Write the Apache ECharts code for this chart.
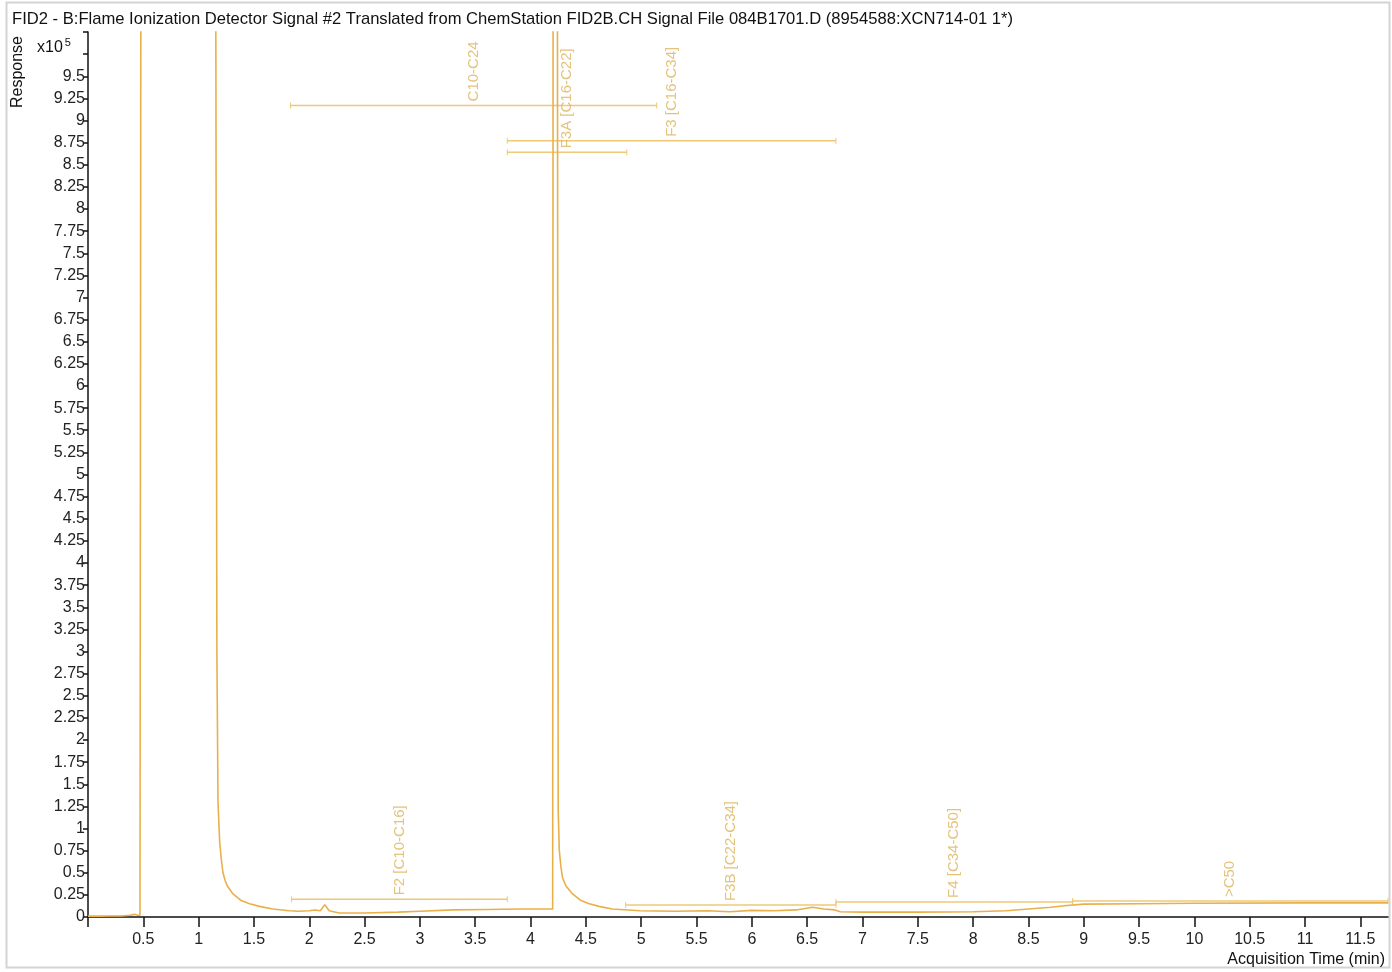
<!DOCTYPE html>
<html>
<head>
<meta charset="utf-8">
<script src="https://cdn.jsdelivr.net/npm/echarts@6.0.0/dist/echarts.min.js"></script>
<style>
  html, body { margin: 0; padding: 0; background: #fff; }
  #chart { width: 1392px; height: 972px; }
</style>
</head>
<body>
<div id="chart"></div>
<script>
// FID2 signal, response in units of 1e5
const timeMin = [0, 0.1, 0.2, 0.3, 0.38, 0.42, 0.45, 0.47, 0.48, 1.15, 1.165, 1.175, 1.19, 1.205, 1.22, 1.24, 1.26, 1.31, 1.38, 1.46,
  1.55, 1.67, 1.82, 1.9, 2.0, 2.05, 2.1, 2.14, 2.18, 2.27, 2.5, 2.8, 3.0, 3.3, 3.6, 3.9, 4.2, 4.205, 4.24, 4.25,
  4.26, 4.275, 4.29, 4.32, 4.38, 4.45, 4.53, 4.62, 4.74, 4.99, 5.3, 5.6, 5.8, 6.0, 6.2, 6.4, 6.55, 6.65, 6.75, 6.8,
  7.0, 7.5, 8.0, 8.3, 8.5, 8.7, 8.85, 9.0, 9.5, 10, 11, 11.75]
const response = [0.01, 0.01, 0.012, 0.012, 0.02, 0.03, 0.02, 0.02, 14, 14, 3, 1.3, 0.85, 0.65, 0.5, 0.41, 0.35, 0.26, 0.19, 0.15,
  0.12, 0.09, 0.07, 0.065, 0.07, 0.08, 0.07, 0.14, 0.07, 0.045, 0.045, 0.055, 0.065, 0.08, 0.085, 0.09, 0.09, 14, 14, 1.2,
  0.75, 0.56, 0.44, 0.35, 0.26, 0.19, 0.15, 0.12, 0.09, 0.07, 0.065, 0.07, 0.06, 0.075, 0.07, 0.08, 0.11, 0.09, 0.08, 0.06,
  0.055, 0.055, 0.06, 0.07, 0.09, 0.11, 0.13, 0.145, 0.15, 0.155, 0.16, 0.16]

// integration ranges
const rangeNames = ['C10-C24', 'F3 [C16-C34]', 'F3A [C16-C22]', 'F2 [C10-C16]', 'F3B [C22-C34]', 'F4 [C34-C50]', '>C50']
const rangeStart = [1.83, 3.79, 3.79, 1.84, 4.86, 6.76, 8.9]
const rangeEnd = [5.14, 6.76, 4.87, 3.79, 6.76, 8.9, 11.75]
const rangeLevel = [9.17, 8.77, 8.64, 0.2, 0.135, 0.17, 0.18]

const xTicks = [0, 0.5, 1, 1.5, 2, 2.5, 3, 3.5, 4, 4.5, 5, 5.5, 6, 6.5, 7, 7.5, 8, 8.5, 9, 9.5, 10, 10.5, 11, 11.5]
const xLabels = [0.5, 1, 1.5, 2, 2.5, 3, 3.5, 4, 4.5, 5, 5.5, 6, 6.5, 7, 7.5, 8, 8.5, 9, 9.5, 10, 10.5, 11, 11.5]
const yTicks = [0, 0.25, 0.5, 0.75, 1, 1.25, 1.5, 1.75, 2, 2.25, 2.5, 2.75, 3, 3.25, 3.5, 3.75, 4, 4.25, 4.5, 4.75,
  5, 5.25, 5.5, 5.75, 6, 6.25, 6.5, 6.75, 7, 7.25, 7.5, 7.75, 8, 8.25, 8.5, 8.75, 9, 9.25, 9.5, 9.75, 10]
const yLabels = [0, 0.25, 0.5, 0.75, 1, 1.25, 1.5, 1.75, 2, 2.25, 2.5, 2.75, 3, 3.25, 3.5, 3.75, 4, 4.25, 4.5, 4.75,
  5, 5.25, 5.5, 5.75, 6, 6.25, 6.5, 6.75, 7, 7.25, 7.5, 7.75, 8, 8.25, 8.5, 8.75, 9, 9.25, 9.5]

const signalColor = '#E9B04A'
const rangeColor = '#EFC878'
const textFont = 'Liberation Sans'

const chart = echarts.init(document.getElementById('chart'))

const rangeSeries = rangeNames.map((name, i) => ({
  type: 'line',
  name: name,
  data: [[rangeStart[i], rangeLevel[i]], [rangeEnd[i], rangeLevel[i]]],
  symbol: 'rect',
  symbolSize: [1, 6],
  showSymbol: true,
  itemStyle: { color: rangeColor },
  lineStyle: { color: rangeColor, width: 1.5 },
  silent: true,
  z: 3
}))

chart.setOption({
  animation: false,
  textStyle: { fontFamily: textFont },
  grid: { left: 88, right: 4, top: 32, bottom: 55 },
  graphic: [
    {
      type: 'rect', silent: true, z: -1,
      shape: { x: 6.5, y: 2.5, width: 1383, height: 965 },
      style: { fill: 'none', stroke: '#d4d4d4', lineWidth: 2 }
    },
    {
      type: 'text', left: 12, top: 11,
      style: {
        text: 'FID2 - B:Flame Ionization Detector Signal #2 Translated from ChemStation FID2B.CH Signal File 084B1701.D (8954588:XCN714-01 1*)',
        font: '16.6px Liberation Sans', fill: '#111'
      }
    },
    {
      type: 'text', x: 18, y: 72, rotation: Math.PI / 2,
      style: { text: 'Response', font: '16px Liberation Sans', fill: '#111', align: 'center', verticalAlign: 'middle' }
    },
    {
      type: 'text', left: 37, top: 37,
      style: {
        text: '{b|x10}{s|5}',
        rich: {
          b: { font: '16px Liberation Sans', fill: '#111', verticalAlign: 'bottom' },
          s: { font: '11px Liberation Sans', fill: '#111', verticalAlign: 'top', padding: [0, 0, 8, 2] }
        }
      }
    },
    {
      type: 'text', right: 7, top: 952,
      style: { text: 'Acquisition Time (min)', font: '16px Liberation Sans', fill: '#111' }
    }
  ],
  xAxis: {
    type: 'value',
    min: 0,
    max: 11.75,
    splitLine: { show: false },
    axisLine: { onZero: false, lineStyle: { color: '#111', width: 1.5 } },
    axisTick: { length: 10, customValues: xTicks, lineStyle: { color: '#111', width: 1.5 } },
    axisLabel: { customValues: xLabels, margin: 15, fontSize: 16, color: '#222' }
  },
  yAxis: {
    type: 'value',
    min: 0,
    max: 10,
    splitLine: { show: false },
    axisLine: { show: true, lineStyle: { color: '#111', width: 1.5 } },
    axisTick: { show: true, length: 5, customValues: yTicks, lineStyle: { color: '#111', width: 1.5 } },
    axisLabel: { customValues: yLabels, margin: 3, fontSize: 16, color: '#222' }
  },
  series: [
    {
      type: 'line',
      name: 'FID2',
      data: timeMin.map((t, i) => [t, response[i]]),
      showSymbol: false,
      lineStyle: { color: signalColor, width: 1.6 },
      itemStyle: { color: signalColor },
      clip: true,
      z: 4
    },
    ...rangeSeries,
    {
      type: 'scatter',
      name: 'range labels',
      data: rangeNames.map((name, i) => ({ name: name, value: [(rangeStart[i] + rangeEnd[i]) / 2, rangeLevel[i]] })),
      symbolSize: 0,
      silent: true,
      label: {
        show: true,
        formatter: '{b}',
        position: 'top',
        distance: 4,
        rotate: 90,
        align: 'left',
        verticalAlign: 'middle',
        fontSize: 15,
        color: '#DDB45A'
      },
      z: 5
    }
  ]
})
</script>
</body>
</html>
